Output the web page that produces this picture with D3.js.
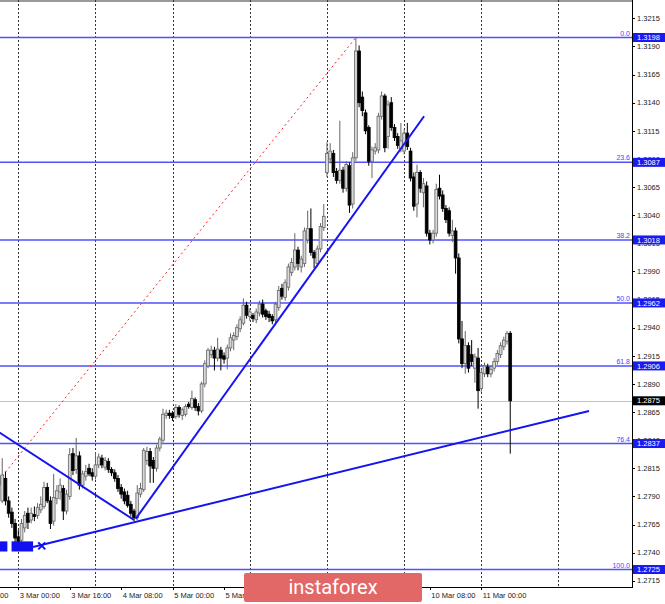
<!DOCTYPE html>
<head>
<meta charset="utf-8">
<script src="https://d3js.org/d3.v7.min.js"></script>
<style>
body { margin: 0; background: #fff; }
svg { display: block; }
text { font-family: "Liberation Sans", Arial, sans-serif; }
</style>
</head>
<body>
<svg width="665" height="604"></svg>
<script>
// H1 bars, index 0 = 3 Mar 00:00 (weekend hours skipped), first bar is index -6
var firstBar = -6;
var candles = [ // [open, high, low, close]
  [1.2800,1.2815,1.2790,1.2808],[1.2786,1.2824,1.2784,1.2809],[1.2806,1.2812,1.2782,1.2786],
  [1.2786,1.2790,1.2771,1.2775],[1.2776,1.2780,1.2762,1.2766],[1.2766,1.2770,1.2748,1.2753],
  [1.2754,1.2760,1.2744,1.2750],[1.2751,1.2770,1.2747,1.2766],[1.2762,1.2777,1.2758,1.2773],
  [1.2775,1.2780,1.2761,1.2767],[1.2769,1.2780,1.2766,1.2775],[1.2774,1.2781,1.2768,1.2772],
  [1.2773,1.2784,1.2770,1.2780],[1.2778,1.2790,1.2775,1.2783],[1.2781,1.2803,1.2779,1.2798],
  [1.2798,1.2802,1.2784,1.2786],[1.2786,1.2790,1.2761,1.2766],[1.2768,1.2810,1.2764,1.2789],
  [1.2788,1.2800,1.2783,1.2795],[1.2794,1.2806,1.2787,1.2800],[1.2797,1.2800,1.2769,1.2777],
  [1.2777,1.2796,1.2774,1.2792],[1.2790,1.2833,1.2787,1.2827],[1.2828,1.2833,1.2809,1.2813],
  [1.2814,1.2842,1.2810,1.2826],[1.2826,1.2830,1.2796,1.2800],[1.2800,1.2813,1.2797,1.2810],
  [1.2808,1.2818,1.2804,1.2812],[1.2815,1.2819,1.2808,1.2810],[1.2811,1.2815,1.2804,1.2808],
  [1.2808,1.2829,1.2805,1.2818],[1.2818,1.2828,1.2815,1.2825],[1.2824,1.2827,1.2815,1.2818],
  [1.2816,1.2825,1.2813,1.2822],[1.2821,1.2824,1.2811,1.2814],[1.2814,1.2816,1.2808,1.2811],
  [1.2811,1.2814,1.2803,1.2806],[1.2806,1.2809,1.2794,1.2797],[1.2798,1.2801,1.2788,1.2792],
  [1.2794,1.2797,1.2783,1.2786],[1.2791,1.2795,1.2780,1.2782],[1.2783,1.2786,1.2772,1.2775],
  [1.2777,1.2779,1.2768,1.2771],[1.2771,1.2800,1.2769,1.2793],[1.2792,1.2802,1.2789,1.2797],
  [1.2796,1.2833,1.2794,1.2831],[1.2822,1.2834,1.2818,1.2830],[1.2830,1.2833,1.2802,1.2817],
  [1.2822,1.2825,1.2802,1.2815],[1.2815,1.2836,1.2812,1.2833],[1.2833,1.2843,1.2830,1.2841],
  [1.2840,1.2868,1.2838,1.2863],[1.2862,1.2867,1.2859,1.2864],[1.2864,1.2867,1.2859,1.2862],
  [1.2864,1.2866,1.2857,1.2860],[1.2861,1.2872,1.2859,1.2869],[1.2869,1.2871,1.2860,1.2863],
  [1.2862,1.2869,1.2858,1.2867],[1.2863,1.2872,1.2861,1.2870],[1.2872,1.2874,1.2868,1.2870],
  [1.2869,1.2884,1.2867,1.2877],[1.2876,1.2878,1.2866,1.2869],[1.2870,1.2873,1.2862,1.2866],
  [1.2866,1.2892,1.2864,1.2890],[1.2890,1.2911,1.2887,1.2908],[1.2906,1.2922,1.2904,1.2920],
  [1.2916,1.2924,1.2913,1.2920],[1.2920,1.2923,1.2902,1.2913],[1.2913,1.2931,1.2910,1.2921],
  [1.2920,1.2923,1.2902,1.2913],[1.2915,1.2918,1.2908,1.2912],[1.2913,1.2925,1.2903,1.2922],
  [1.2922,1.2935,1.2919,1.2931],[1.2929,1.2936,1.2920,1.2933],[1.2932,1.2943,1.2929,1.2940],
  [1.2939,1.2950,1.2936,1.2947],[1.2944,1.2966,1.2942,1.2960],[1.2960,1.2963,1.2948,1.2951],
  [1.2950,1.2957,1.2946,1.2954],[1.2951,1.2953,1.2945,1.2948],[1.2947,1.2957,1.2944,1.2954],
  [1.2953,1.2964,1.2950,1.2961],[1.2961,1.2965,1.2949,1.2952],[1.2955,1.2957,1.2947,1.2950],
  [1.2952,1.2955,1.2945,1.2949],[1.2950,1.2952,1.2943,1.2946],[1.2947,1.2963,1.2944,1.2961],
  [1.2958,1.2977,1.2955,1.2973],[1.2975,1.2979,1.2965,1.2968],[1.2967,1.2983,1.2964,1.2980],
  [1.2976,1.2997,1.2973,1.2994],[1.2989,1.3002,1.2986,1.2998],[1.2994,1.3024,1.2991,1.3009],
  [1.3009,1.3012,1.2991,1.2997],[1.2994,1.3004,1.2989,1.3001],[1.2997,1.3029,1.2994,1.3026],
  [1.3018,1.3044,1.3015,1.3028],[1.3028,1.3046,1.3004,1.3007],[1.3007,1.3009,1.2993,1.3002],
  [1.2997,1.3013,1.2994,1.3010],[1.3010,1.3033,1.3007,1.3030],[1.3029,1.3050,1.3026,1.3039],
  [1.3078,1.3105,1.3074,1.3095],[1.3090,1.3104,1.3086,1.3097],[1.3095,1.3098,1.3074,1.3078],
  [1.3079,1.3082,1.3068,1.3071],[1.3071,1.3124,1.3068,1.3080],[1.3080,1.3083,1.3060,1.3064],
  [1.3064,1.3088,1.3061,1.3085],[1.3084,1.3087,1.3042,1.3049],[1.3050,1.3096,1.3046,1.3091],
  [1.3091,1.3198,1.3088,1.3186],[1.3186,1.3191,1.3136,1.3140],[1.3145,1.3150,1.3128,1.3133],
  [1.3131,1.3134,1.3112,1.3115],[1.3118,1.3120,1.3084,1.3088],[1.3088,1.3101,1.3073,1.3098],
  [1.3097,1.3104,1.3094,1.3100],[1.3098,1.3131,1.3095,1.3128],[1.3128,1.3150,1.3125,1.3146],
  [1.3146,1.3148,1.3096,1.3100],[1.3110,1.3142,1.3099,1.3138],[1.3140,1.3145,1.3115,1.3118],
  [1.3118,1.3121,1.3106,1.3109],[1.3110,1.3113,1.3099,1.3102],[1.3099,1.3122,1.3096,1.3106],
  [1.3097,1.3116,1.3094,1.3113],[1.3113,1.3122,1.3098,1.3101],[1.3097,1.3100,1.3070,1.3073],
  [1.3074,1.3078,1.3044,1.3048],[1.3050,1.3085,1.3038,1.3078],[1.3078,1.3080,1.3060,1.3064],
  [1.3060,1.3073,1.3047,1.3068],[1.3066,1.3070,1.3021,1.3024],[1.3024,1.3027,1.3014,1.3018],
  [1.3018,1.3027,1.3015,1.3024],[1.3024,1.3068,1.3021,1.3063],[1.3064,1.3076,1.3054,1.3057],
  [1.3058,1.3062,1.3043,1.3046],[1.3046,1.3049,1.3033,1.3036],[1.3044,1.3047,1.3021,1.3024],
  [1.3022,1.3036,1.3016,1.3026],[1.3026,1.3029,1.2988,1.3002],[1.3002,1.3006,1.2926,1.2930],
  [1.2930,1.2946,1.2904,1.2908],[1.2908,1.2937,1.2899,1.2924],[1.2924,1.2927,1.2900,1.2904],
  [1.2916,1.2929,1.2906,1.2910],[1.2904,1.2917,1.2891,1.2914],[1.2913,1.2922,1.2868,1.2884],
  [1.2886,1.2904,1.2883,1.2900],[1.2899,1.2909,1.2896,1.2906],[1.2905,1.2908,1.2896,1.2899],
  [1.2899,1.2906,1.2896,1.2903],[1.2904,1.2913,1.2901,1.2910],[1.2910,1.2920,1.2907,1.2917],
  [1.2916,1.2927,1.2913,1.2924],[1.2923,1.2932,1.2920,1.2929],[1.2928,1.2937,1.2925,1.2935],
  [1.2935,1.2937,1.2828,1.2875]
];

var fibNames = ["0.0", "23.6", "38.2", "50.0", "61.8", "76.4", "100.0"];
var fibPrices = [1.3198, 1.3087, 1.3018, 1.2962, 1.2906, 1.2837, 1.2725];
var fibAnchors = [[-28.4, 1.2725], [105, 1.3198]];
var bidPrice = 1.2875;

var priceTicks = [1.2715, 1.2740, 1.2765, 1.2790, 1.2815, 1.2840, 1.2865, 1.2890, 1.2915,
  1.2940, 1.2965, 1.2990, 1.3015, 1.3040, 1.3065, 1.3090, 1.3115, 1.3140, 1.3165, 1.3190, 1.3215];

var timeLabels = ["2 Mar 08:00", "3 Mar 00:00", "3 Mar 16:00", "4 Mar 08:00", "5 Mar 00:00",
  "5 Mar 16:00", "6 Mar 08:00", "9 Mar 00:00", "9 Mar 16:00", "10 Mar 08:00", "11 Mar 00:00"];
var timeLabelBars = [-16, 0, 16, 32, 48, 64, 80, 96, 112, 128, 144];
var dayStartBars = [0, 24, 48, 72, 96, 120, 144, 168];

// trend lines as [bar, price] pairs
var trendLines = [
  [[-6, 1.2847], [36, 1.2769]],
  [[4.6, 1.2745], [177.5, 1.2866]],
  [[36.5, 1.2770], [126.2, 1.3128]]
];
var markBlocks = [[-6, -3.4], [-2.1, 4.6]];   // blue blocks, bar ranges
var markBlockPrices = [1.2741, 1.2750];
var crossMark = [7.3, 1.2746];

var W = 632, H = 587;
var logo = { x: 244, y: 573, w: 178, h: 29 };
var svg = d3.select("svg");

var x = d3.scaleLinear().domain([0, 144]).range([18.3, 481.3]);
var y = d3.scaleLinear().domain([1.2725, 1.3198]).range([569.5, 37.5]);

var defs = svg.append("defs");
defs.append("clipPath").attr("id", "plot")
  .append("rect").attr("width", W).attr("height", H);
// time labels are hidden where the logo sits
var tclip = defs.append("clipPath").attr("id", "tclip");
tclip.append("rect").attr("x", -5).attr("y", H).attr("width", logo.x + 5).attr("height", 20);
tclip.append("rect").attr("x", logo.x + logo.w).attr("y", H).attr("width", 300).attr("height", 20);

var plot = svg.append("g").attr("clip-path", "url(#plot)");

// top frame
plot.append("line").attr("x1", 0).attr("x2", W).attr("y1", 1).attr("y2", 1)
  .attr("stroke", "#9a9a9a").attr("stroke-width", 2);

// day separators
plot.selectAll(".sep").data(dayStartBars).enter().append("line")
  .attr("x1", function(d) { return Math.round(x(d)) + 0.5; })
  .attr("x2", function(d) { return Math.round(x(d)) + 0.5; })
  .attr("y1", 0).attr("y2", H)
  .attr("stroke", "#333").attr("stroke-dasharray", "2,2");

// bid line
plot.append("line").attr("x1", 0).attr("x2", W)
  .attr("y1", Math.round(y(bidPrice)) + 0.5).attr("y2", Math.round(y(bidPrice)) + 0.5)
  .attr("stroke", "#c4c4c4");

// fibo levels
plot.selectAll(".fib").data(fibPrices).enter().append("line")
  .attr("x1", 0).attr("x2", W)
  .attr("y1", function(d) { return y(d); }).attr("y2", function(d) { return y(d); })
  .attr("stroke", "#5050ff").attr("stroke-width", 1.5);

plot.selectAll(".fibl").data(fibPrices).enter().append("text")
  .attr("x", 630).attr("y", function(d) { return y(d) - 2; })
  .attr("text-anchor", "end").attr("font-size", 7).attr("fill", "#4646ff")
  .text(function(d, i) { return fibNames[i]; });

// fibo base line
plot.append("line")
  .attr("x1", x(fibAnchors[0][0])).attr("y1", y(fibAnchors[0][1]))
  .attr("x2", x(fibAnchors[1][0])).attr("y2", y(fibAnchors[1][1]))
  .attr("stroke", "#ff2020").attr("stroke-width", 1).attr("stroke-dasharray", "2,3");

// candles
var bars = plot.selectAll(".c").data(candles).enter().append("g");
bars.append("line")
  .attr("x1", function(d, i) { return x(i + firstBar); })
  .attr("x2", function(d, i) { return x(i + firstBar); })
  .attr("y1", function(d) { return y(d[1]); })
  .attr("y2", function(d) { return y(d[2]); })
  .attr("stroke", function(d) { return d[3] >= d[0] ? "#666" : "#000"; })
  .attr("stroke-width", 1);
bars.append("rect")
  .attr("x", function(d, i) { return x(i + firstBar) - 1.4; })
  .attr("width", 2.8)
  .attr("y", function(d) { return y(Math.max(d[0], d[3])); })
  .attr("height", function(d) { return Math.max(1, Math.abs(y(d[0]) - y(d[3]))); })
  .attr("fill", function(d) { return d[3] >= d[0] ? "#d8d8d8" : "#000"; })
  .attr("stroke", function(d) { return d[3] >= d[0] ? "#666" : "#000"; })
  .attr("stroke-width", 0.8);

// trend lines
plot.selectAll(".tl").data(trendLines).enter().append("line")
  .attr("x1", function(d) { return x(d[0][0]); }).attr("y1", function(d) { return y(d[0][1]); })
  .attr("x2", function(d) { return x(d[1][0]); }).attr("y2", function(d) { return y(d[1][1]); })
  .attr("stroke", "#1414f0").attr("stroke-width", 2);

plot.selectAll(".mb").data(markBlocks).enter().append("rect")
  .attr("x", function(d) { return x(d[0]); })
  .attr("width", function(d) { return x(d[1]) - x(d[0]); })
  .attr("y", y(markBlockPrices[1]))
  .attr("height", y(markBlockPrices[0]) - y(markBlockPrices[1]))
  .attr("fill", "#1010f0");

var cx = x(crossMark[0]), cy = y(crossMark[1]);
plot.append("path")
  .attr("d", "M" + (cx - 3.5) + "," + (cy - 3.5) + "L" + (cx + 3.5) + "," + (cy + 3.5) +
    "M" + (cx - 3.5) + "," + (cy + 3.5) + "L" + (cx + 3.5) + "," + (cy - 3.5))
  .attr("stroke", "#1010f0").attr("stroke-width", 2);

// axes lines
svg.append("line").attr("x1", W + 0.5).attr("x2", W + 0.5).attr("y1", 0).attr("y2", H + 1)
  .attr("stroke", "#000");
svg.append("line").attr("x1", 0).attr("x2", W + 1).attr("y1", H + 0.5).attr("y2", H + 0.5)
  .attr("stroke", "#000");

// price scale
var py = svg.append("g");
py.selectAll(".pt").data(priceTicks).enter().append("line")
  .attr("x1", W).attr("x2", W + 3)
  .attr("y1", function(d) { return Math.round(y(d)) + 0.5; })
  .attr("y2", function(d) { return Math.round(y(d)) + 0.5; })
  .attr("stroke", "#000");
py.selectAll(".pl").data(priceTicks).enter().append("text")
  .attr("x", W + 5).attr("y", function(d) { return y(d) + 2.7; })
  .attr("font-size", 7.5).attr("fill", "#222")
  .text(function(d) { return d3.format(".4f")(d); });

var boxes = fibPrices.map(function(p) { return { p: p, bg: "#1a1af2" }; })
  .concat([{ p: bidPrice, bg: "#000" }]);
py.selectAll(".pb").data(boxes).enter().append("rect")
  .attr("x", W + 1).attr("width", 32)
  .attr("y", function(d) { return y(d.p) - 4.5; }).attr("height", 9)
  .attr("fill", function(d) { return d.bg; });
py.selectAll(".pbt").data(boxes).enter().append("text")
  .attr("x", W + 5).attr("y", function(d) { return y(d.p) + 2.7; })
  .attr("font-size", 7.5).attr("fill", "#fff")
  .text(function(d) { return d3.format(".4f")(d.p); });

// time scale
var tx = svg.append("g");
tx.selectAll(".tt").data(timeLabelBars).enter().append("line")
  .attr("x1", function(d) { return Math.round(x(d)) + 0.5; })
  .attr("x2", function(d) { return Math.round(x(d)) + 0.5; })
  .attr("y1", H).attr("y2", H + 3).attr("stroke", "#000");

// labels lying fully under the logo are not visible in the chart
var shownLabels = timeLabelBars.map(function(b, i) { return { b: b, t: timeLabels[i] }; })
  .filter(function(d) { return !(x(d.b) > logo.x && x(d.b) + 42 < logo.x + logo.w); });
tx.append("g").attr("clip-path", "url(#tclip)")
  .selectAll("text").data(shownLabels).enter().append("text")
  .attr("x", function(d) { return x(d.b) + 1.5; }).attr("y", 598)
  .attr("font-size", 7.5).attr("fill", "#222")
  .text(function(d) { return d.t; });

// watermark
svg.append("rect").attr("x", logo.x).attr("y", logo.y).attr("width", logo.w).attr("height", logo.h)
  .attr("rx", 2).attr("fill", "#e26767");
svg.append("text").attr("x", logo.x + logo.w / 2).attr("y", 594).attr("text-anchor", "middle")
  .style("font-family", "Roboto, 'Open Sans', sans-serif").attr("font-size", 20)
  .attr("fill", "#fff").text("instaforex");
</script>
</body>
